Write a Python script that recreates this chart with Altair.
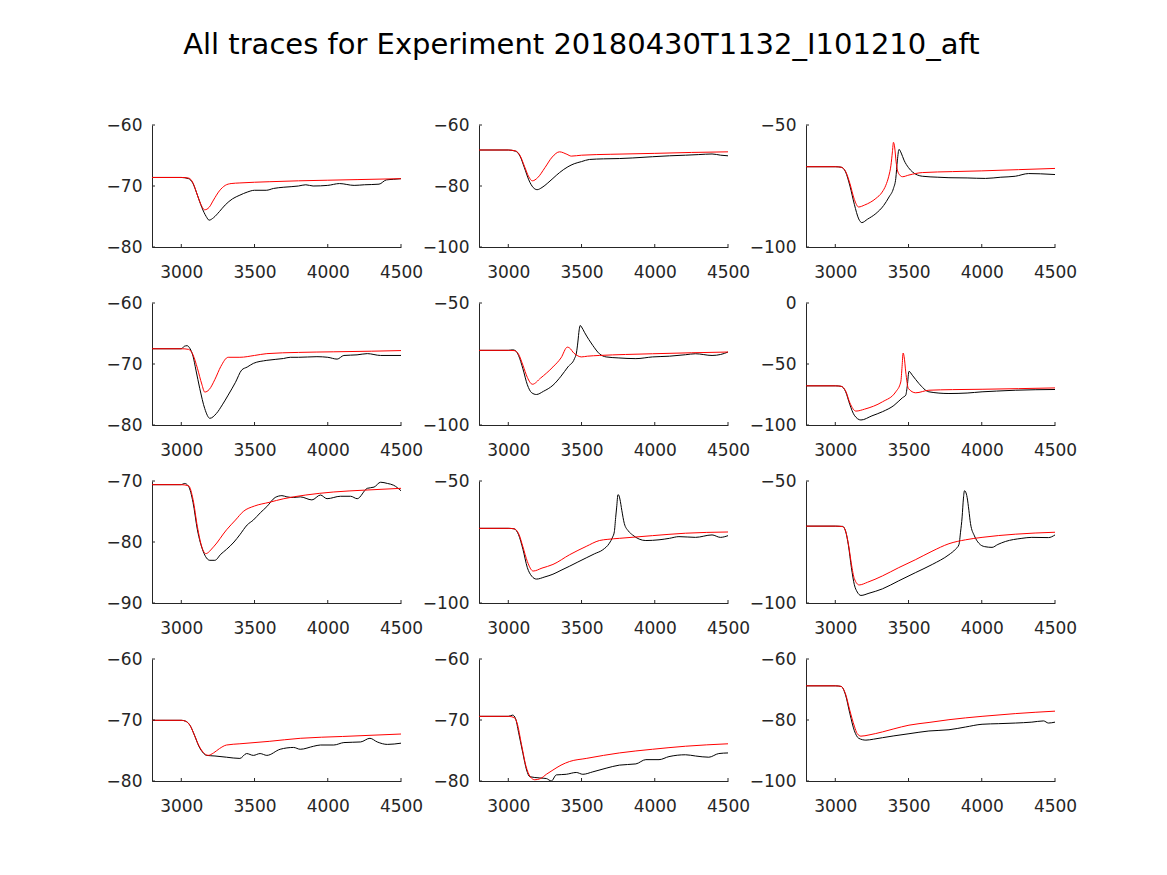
import altair as alt
import pandas as pd

TITLE = "All traces for Experiment 20180430T1132_I101210_aft"
X_DOMAIN = [2800, 4500]
X_TICKS = [3000, 3500, 4000, 4500]

Y_DOMAINS = [[-80, -60], [-100, -60], [-100, -50],
             [-80, -60], [-100, -50], [-100, 0],
             [-90, -70], [-100, -50], [-100, -50],
             [-80, -60], [-80, -60], [-100, -60]]
Y_TICKS = [[-80, -70, -60], [-100, -80, -60], [-100, -50],
           [-80, -70, -60], [-100, -50], [-100, -50, 0],
           [-90, -80, -70], [-100, -50], [-100, -50],
           [-80, -70, -60], [-80, -70, -60], [-100, -80, -60]]

# ---- panel 1
p1_bx = [2800, 3000, 3050, 3080, 3110, 3140, 3170, 3190, 3220, 3260, 3300, 3350, 3400, 3450, 3500, 3580, 3630, 3700, 3800, 3850, 3900, 4000, 4080, 4180, 4250, 4350, 4400, 4450, 4500]
p1_by = [-68.6, -68.6, -68.8, -69.6, -71.5, -73.5, -75.0, -75.6, -75.2, -74.2, -73.1, -72.1, -71.5, -71.0, -70.7, -70.7, -70.4, -70.2, -70.0, -69.8, -70.0, -69.9, -69.6, -69.9, -69.8, -69.7, -69.0, -68.9, -68.8]
p1_rx = [2800, 3000, 3050, 3080, 3100, 3130, 3160, 3190, 3220, 3260, 3300, 3340, 3400, 3600, 3800, 4000, 4200, 4500]
p1_ry = [-68.6, -68.6, -68.7, -69.5, -70.8, -72.8, -73.9, -73.5, -72.3, -70.8, -69.9, -69.6, -69.5, -69.3, -69.15, -69.05, -68.95, -68.8]
# ---- panel 2
p2_bx = [2800, 3000, 3050, 3080, 3110, 3140, 3170, 3197, 3230, 3270, 3305, 3350, 3407, 3450, 3500, 3554, 3650, 3758, 3850, 3984, 4100, 4210, 4300, 4391, 4450, 4500]
p2_by = [-68.2, -68.2, -68.6, -70.2, -74.0, -78.0, -80.5, -81.2, -80.5, -79.0, -77.5, -75.6, -73.7, -72.7, -72.0, -71.3, -71.1, -71.0, -70.8, -70.4, -70.1, -69.9, -69.7, -69.5, -69.9, -70.1]
p2_rx = [2800, 3000, 3050, 3080, 3110, 3140, 3165, 3200, 3250, 3300, 3350, 3400, 3430, 3500, 3700, 4000, 4250, 4500]
p2_ry = [-68.2, -68.2, -68.5, -70.0, -73.5, -77.0, -78.3, -77.3, -74.0, -70.5, -68.8, -69.6, -70.2, -69.9, -69.6, -69.3, -69.0, -68.8]
# ---- panel 3
p3_bx = [2800, 3000, 3040, 3070, 3100, 3130, 3160, 3181, 3220, 3277, 3330, 3367, 3397, 3413, 3424, 3435, 3450, 3469, 3500, 3526, 3594, 3700, 3776, 3900, 4025, 4130, 4229, 4320, 4400, 4500]
p3_by = [-67.1, -67.1, -67.3, -69.2, -75.0, -82.5, -88.5, -90.0, -88.6, -86.3, -83.0, -79.5, -76.0, -71.9, -64.4, -60.0, -61.5, -64.4, -67.5, -69.2, -71.0, -71.4, -71.6, -71.7, -71.9, -71.4, -71.0, -69.9, -70.0, -70.3]
p3_rx = [2800, 3000, 3040, 3070, 3100, 3130, 3159, 3200, 3277, 3320, 3345, 3365, 3380, 3390, 3397, 3405, 3415, 3424, 3440, 3458, 3503, 3594, 3800, 4000, 4250, 4500]
p3_ry = [-67.1, -67.1, -67.3, -69.0, -74.0, -80.5, -83.6, -82.8, -80.1, -77.5, -74.7, -71.0, -66.5, -61.0, -57.1, -59.0, -65.0, -68.5, -70.5, -71.2, -70.5, -69.5, -69.1, -68.8, -68.3, -67.8]
# ---- panel 4
p4_bx = [2800, 3000, 3020, 3040, 3060, 3080, 3100, 3126, 3160, 3195, 3240, 3280, 3320, 3370, 3412, 3450, 3492, 3584, 3698, 3744, 3800, 3926, 4000, 4064, 4110, 4200, 4270, 4361, 4500]
p4_by = [-67.5, -67.5, -67.1, -67.0, -67.5, -68.7, -71.0, -74.0, -77.3, -78.9, -78.1, -76.7, -75.1, -73.0, -71.0, -70.5, -69.9, -69.4, -69.1, -68.9, -68.9, -68.8, -68.9, -69.2, -68.6, -68.5, -68.3, -68.6, -68.6]
p4_rx = [2800, 3000, 3050, 3080, 3110, 3140, 3160, 3190, 3230, 3270, 3320, 3400, 3500, 3584, 3800, 4041, 4300, 4500]
p4_ry = [-67.5, -67.5, -67.6, -68.5, -70.7, -73.3, -74.6, -74.2, -72.5, -70.4, -68.9, -68.9, -68.6, -68.3, -68.1, -68.0, -67.9, -67.8]
# ---- panel 5
p5_bx = [2800, 3000, 3030, 3050, 3070, 3100, 3130, 3160, 3192, 3240, 3305, 3360, 3407, 3452, 3465, 3475, 3484, 3491, 3500, 3520, 3550, 3577, 3622, 3668, 3750, 3871, 3984, 4100, 4210, 4278, 4391, 4450, 4500]
p5_by = [-69.4, -69.4, -69.2, -69.6, -71.5, -77.0, -83.5, -86.8, -87.5, -86.2, -83.7, -80.0, -76.2, -72.8, -70.5, -66.0, -61.0, -59.2, -59.8, -62.0, -65.0, -67.4, -70.8, -72.1, -72.5, -72.8, -72.1, -71.8, -71.2, -70.8, -71.5, -71.1, -70.1]
p5_rx = [2800, 3000, 3040, 3070, 3100, 3130, 3165, 3220, 3305, 3360, 3403, 3425, 3441, 3470, 3498, 3540, 3622, 3800, 3984, 4250, 4500]
p5_ry = [-69.4, -69.4, -69.5, -71.0, -75.5, -80.5, -83.3, -80.8, -76.2, -72.5, -68.1, -68.8, -70.1, -71.5, -72.1, -71.8, -71.5, -71.1, -70.8, -70.4, -70.1]
# ---- panel 6
p6_bx = [2800, 3000, 3040, 3070, 3100, 3130, 3175, 3250, 3322, 3400, 3458, 3481, 3492, 3503, 3526, 3571, 3639, 3776, 3900, 4002, 4100, 4229, 4500]
p6_by = [-67.9, -67.9, -68.3, -72.5, -83.5, -92.0, -95.9, -92.5, -89.1, -84.0, -77.7, -75.5, -67.4, -56.0, -59.2, -66.0, -72.8, -74.2, -73.8, -72.8, -72.2, -71.5, -70.9]
p6_rx = [2800, 3000, 3040, 3070, 3100, 3141, 3200, 3322, 3413, 3447, 3456, 3463, 3470, 3481, 3499, 3549, 3639, 3800, 4002, 4250, 4500]
p6_ry = [-67.9, -67.9, -68.3, -72.0, -82.0, -88.6, -87.0, -81.0, -72.8, -64.7, -52.0, -41.0, -44.0, -56.5, -70.1, -73.6, -71.5, -71.0, -70.7, -70.2, -69.6]
# ---- panel 7
p7_bx = [2800, 3000, 3023, 3050, 3080, 3110, 3149, 3195, 3229, 3270, 3309, 3360, 3400, 3450, 3492, 3540, 3584, 3641, 3687, 3721, 3767, 3812, 3892, 3950, 3995, 4087, 4156, 4201, 4270, 4316, 4361, 4407, 4450, 4500]
p7_by = [-70.6, -70.6, -70.4, -70.9, -73.5, -78.0, -81.5, -83.0, -83.0, -82.0, -81.2, -80.0, -78.8, -77.2, -76.4, -75.2, -74.2, -72.7, -72.4, -72.6, -72.7, -72.6, -73.1, -72.3, -72.9, -72.5, -72.5, -72.9, -71.2, -71.0, -70.2, -70.4, -70.7, -71.6]
p7_rx = [2800, 3000, 3050, 3080, 3110, 3140, 3167, 3220, 3309, 3370, 3423, 3500, 3600, 3700, 3850, 4041, 4250, 4500]
p7_ry = [-70.6, -70.6, -70.8, -73.0, -77.5, -80.8, -81.9, -80.8, -78.0, -76.4, -75.0, -74.1, -73.5, -72.9, -72.3, -71.8, -71.5, -71.2]
# ---- panel 8
p8_bx = [2800, 3000, 3040, 3070, 3100, 3130, 3160, 3192, 3250, 3305, 3360, 3419, 3475, 3532, 3590, 3645, 3690, 3712, 3724, 3733, 3740, 3749, 3755, 3762, 3775, 3792, 3820, 3848, 3939, 4029, 4100, 4165, 4278, 4391, 4448, 4500]
p8_by = [-69.4, -69.4, -69.6, -72.0, -78.0, -85.5, -89.0, -90.2, -89.3, -88.2, -86.6, -84.9, -83.2, -81.5, -79.8, -78.2, -75.5, -73.0, -70.8, -65.0, -60.7, -55.6, -55.9, -57.4, -62.0, -67.4, -70.5, -72.1, -74.4, -74.1, -73.5, -72.8, -73.1, -72.1, -73.1, -72.4]
p8_rx = [2800, 3000, 3040, 3070, 3100, 3130, 3170, 3230, 3305, 3419, 3532, 3622, 3680, 3758, 3984, 4210, 4500]
p8_ry = [-69.4, -69.4, -69.6, -71.5, -77.0, -83.0, -86.9, -85.7, -84.2, -80.2, -76.8, -74.4, -73.9, -73.5, -72.4, -71.4, -70.9]
# ---- panel 9
p9_bx = [2800, 3000, 3050, 3070, 3090, 3110, 3130, 3150, 3175, 3230, 3322, 3430, 3549, 3662, 3776, 3820, 3844, 3855, 3866, 3875, 3882, 3890, 3900, 3912, 3923, 3950, 3980, 4020, 4070, 4110, 4161, 4274, 4342, 4455, 4500]
p9_by = [-68.5, -68.5, -68.6, -70.5, -76.5, -85.5, -92.5, -95.5, -96.9, -96.0, -94.2, -91.0, -87.5, -84.2, -80.2, -78.0, -76.1, -71.0, -64.7, -57.0, -54.0, -54.5, -56.7, -62.0, -67.4, -72.5, -75.5, -76.9, -77.2, -76.0, -74.8, -73.5, -73.1, -73.2, -72.1]
p9_rx = [2800, 3000, 3050, 3070, 3090, 3110, 3130, 3163, 3220, 3322, 3430, 3549, 3660, 3776, 3889, 4002, 4229, 4500]
p9_ry = [-68.5, -68.5, -68.7, -70.5, -76.0, -84.0, -90.0, -92.6, -91.5, -88.9, -85.6, -82.2, -78.8, -75.7, -74.1, -73.1, -71.8, -71.0]
# ---- panel 10
p10_bx = [2800, 3000, 3030, 3060, 3090, 3120, 3150, 3172, 3230, 3309, 3400, 3446, 3492, 3538, 3584, 3675, 3767, 3812, 3904, 3950, 4041, 4110, 4224, 4288, 4338, 4407, 4500]
p10_by = [-70.05, -70.05, -70.2, -70.9, -72.5, -74.3, -75.4, -75.8, -75.9, -76.1, -76.3, -75.5, -75.8, -75.5, -75.8, -74.8, -74.5, -74.8, -74.3, -74.1, -74.1, -73.7, -73.6, -73.0, -73.6, -74.0, -73.8]
p10_rx = [2800, 3000, 3030, 3060, 3090, 3120, 3150, 3183, 3220, 3260, 3309, 3400, 3600, 3812, 4100, 4500]
p10_ry = [-70.05, -70.05, -70.2, -70.9, -72.5, -74.2, -75.3, -75.8, -75.4, -74.7, -74.1, -73.9, -73.5, -73.0, -72.7, -72.3]
# ---- panel 11
p11_bx = [2800, 3000, 3030, 3050, 3070, 3100, 3125, 3147, 3215, 3260, 3294, 3328, 3396, 3464, 3509, 3577, 3668, 3758, 3871, 3939, 4029, 4097, 4210, 4278, 4369, 4437, 4500]
p11_by = [-69.4, -69.4, -69.2, -69.8, -72.0, -75.5, -78.2, -79.3, -79.5, -79.6, -80.0, -79.0, -78.9, -78.6, -78.9, -78.5, -77.9, -77.4, -77.2, -76.5, -76.5, -76.0, -75.7, -75.9, -76.1, -75.5, -75.4]
p11_rx = [2800, 3000, 3040, 3060, 3090, 3120, 3150, 3181, 3220, 3260, 3305, 3360, 3419, 3532, 3650, 3758, 3984, 4210, 4500]
p11_ry = [-69.4, -69.4, -69.6, -70.5, -74.0, -77.5, -79.3, -79.8, -79.6, -78.9, -78.2, -77.4, -76.8, -76.3, -75.8, -75.4, -74.8, -74.3, -73.9]
# ---- panel 12
p12_bx = [2800, 3000, 3040, 3070, 3100, 3130, 3160, 3209, 3260, 3322, 3400, 3503, 3639, 3776, 3889, 4002, 4116, 4229, 4342, 4422, 4455, 4500]
p12_by = [-68.8, -68.8, -69.0, -71.8, -78.0, -83.5, -86.0, -86.6, -86.3, -85.8, -85.2, -84.5, -83.6, -83.2, -82.3, -81.4, -81.2, -81.0, -80.7, -80.3, -81.0, -80.7]
p12_rx = [2800, 3000, 3040, 3070, 3100, 3130, 3150, 3175, 3230, 3322, 3400, 3503, 3640, 3776, 4002, 4229, 4500]
p12_ry = [-68.8, -68.8, -69.0, -71.5, -77.0, -82.0, -84.5, -85.3, -84.9, -83.9, -82.9, -81.7, -80.8, -79.9, -78.8, -77.9, -77.1]

BLACK = [(p1_bx, p1_by), (p2_bx, p2_by), (p3_bx, p3_by), (p4_bx, p4_by),
         (p5_bx, p5_by), (p6_bx, p6_by), (p7_bx, p7_by), (p8_bx, p8_by),
         (p9_bx, p9_by), (p10_bx, p10_by), (p11_bx, p11_by), (p12_bx, p12_by)]
RED = [(p1_rx, p1_ry), (p2_rx, p2_ry), (p3_rx, p3_ry), (p4_rx, p4_ry),
       (p5_rx, p5_ry), (p6_rx, p6_ry), (p7_rx, p7_ry), (p8_rx, p8_ry),
       (p9_rx, p9_ry), (p10_rx, p10_ry), (p11_rx, p11_ry), (p12_rx, p12_ry)]

W, H = 249, 122
AX = "#262626"
FONT = "DejaVu Sans"
FS = 17


def panel(i):
    xs = alt.Scale(domain=X_DOMAIN, nice=False, zero=False)
    ys = alt.Scale(domain=Y_DOMAINS[i], nice=False, zero=False)
    xax = alt.Axis(values=X_TICKS, ticks=False, grid=False, title=None, format="d",
                   labelFont=FONT, labelFontSize=FS, labelColor=AX, labelPadding=17,
                   domainColor=AX, domainWidth=1, labelFlush=False, labelOverlap=False)
    yax = alt.Axis(values=Y_TICKS[i], ticks=False, grid=False, title=None, format="d",
                   labelFont=FONT, labelFontSize=FS, labelColor=AX, labelPadding=10,
                   domainColor=AX, domainWidth=1, labelFlush=False, labelOverlap=False)
    xe = alt.X("t:Q", scale=xs, axis=xax)
    ye = alt.Y("v:Q", scale=ys, axis=yax)
    bdf = pd.DataFrame({"t": BLACK[i][0], "v": BLACK[i][1]})
    rdf = pd.DataFrame({"t": RED[i][0], "v": RED[i][1]})
    black = alt.Chart(bdf).mark_line(color="#000000", strokeWidth=1, interpolate="monotone", clip=True).encode(x=xe, y=ye)
    red = alt.Chart(rdf).mark_line(color="#ff0000", strokeWidth=1, interpolate="monotone", clip=True).encode(x=xe, y=ye)
    xt = alt.Chart(pd.DataFrame({"t": X_TICKS})).mark_rule(color=AX, strokeWidth=1).encode(
        x=xe, y=alt.value(H), y2=alt.value(H - 3))
    yt = alt.Chart(pd.DataFrame({"v": Y_TICKS[i]})).mark_rule(color=AX, strokeWidth=1).encode(
        y=ye, x=alt.value(0), x2=alt.value(3))
    return alt.layer(black, red, xt, yt).properties(width=W, height=H)


panels = [panel(i) for i in range(12)]
chart = alt.concat(*panels, columns=3, spacing={"row": 56, "column": 78}, bounds="flush").properties(
    title=alt.TitleParams(TITLE, font=FONT, fontSize=29, fontWeight="normal", color="#000000",
                          anchor="middle", offset=56, dx=-10),
    padding={"left": 106, "top": 31, "right": 5, "bottom": 5},
    background="white",
).configure_view(stroke=None)

chart.save("out.html", embed_options={"renderer": "svg", "actions": False})
